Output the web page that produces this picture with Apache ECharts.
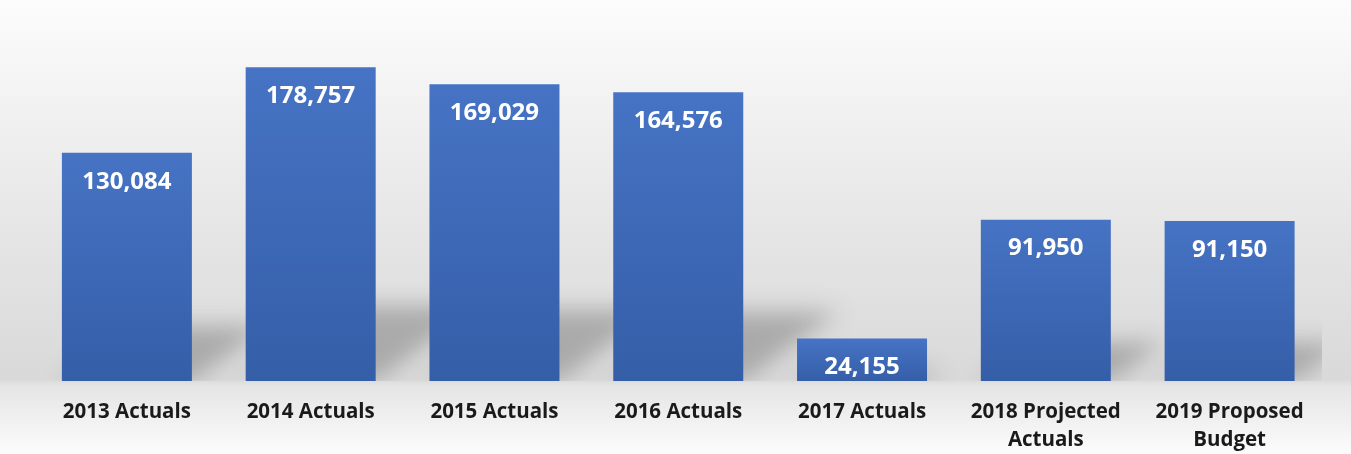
<!DOCTYPE html>
<html>
<head>
<meta charset="utf-8">
<script src="https://cdn.jsdelivr.net/npm/echarts@6/dist/echarts.min.js"></script>
<style>
  html, body { margin: 0; padding: 0; }
  #chart { width: 1351px; height: 454px; }
</style>
</head>
<body>
<div id="chart"></div>
<script>
// Yearly totals, actuals through 2017, then projection and budget
const categories = [
  '2013 Actuals',
  '2014 Actuals',
  '2015 Actuals',
  '2016 Actuals',
  '2017 Actuals',
  '2018 Projected\nActuals',
  '2019 Proposed\nBudget'
];
const values = [130084, 178757, 169029, 164576, 24155, 91950, 91150];

const BAR_WIDTH = 130;
const FONT = '"Open Sans", "Noto Sans", sans-serif';

const chart = echarts.init(document.getElementById('chart'), null, { renderer: 'canvas' });

// Soft, skewed cast shadow behind each bar. The solid shape is moved far off to
// the left and only its blurred canvas shadow is shifted back into place.
const OFF = 4000;
function renderShadow(params, api) {
  const idx = api.value(0);
  const val = api.value(1);
  const base = api.coord([idx, 0]);
  const top = api.coord([idx, val]);
  const h = base[1] - top[1];
  const x0 = base[0] - BAR_WIDTH / 2;
  const x1 = base[0] + BAR_WIDTH / 2;
  const yb = base[1];
  const dx = 0.33 * h;
  const dy = 0.24 * h;
  return {
    type: 'polygon',
    shape: {
      points: [
        [x0 - OFF, yb],
        [x1 - OFF, yb],
        [x1 + dx - OFF, yb - dy],
        [x0 + dx - OFF, yb - dy]
      ]
    },
    style: {
      fill: '#000',
      shadowColor: 'rgba(90,90,90,0.38)',
      shadowBlur: 22,
      shadowOffsetX: OFF,
      shadowOffsetY: 0
    }
  };
}

const option = {
  backgroundColor: {
    type: 'linear', x: 0, y: 0, x2: 0, y2: 1,
    colorStops: [
      { offset: 0.00, color: '#fcfcfc' },
      { offset: 0.25, color: '#f1f1f1' },
      { offset: 0.55, color: '#e4e4e4' },
      { offset: 0.835, color: '#d9d9d9' },
      { offset: 0.85, color: '#e5e5e5' },
      { offset: 1.00, color: '#fcfcfc' }
    ]
  },
  animation: false,
  grid: { left: 35, right: 29.5, top: 30, bottom: 73, containLabel: false },
  xAxis: {
    type: 'category',
    data: categories,
    axisLine: { show: false },
    axisTick: { show: false },
    axisLabel: {
      interval: 0,
      margin: 17,
      color: '#1a1a1a',
      fontFamily: FONT,
      fontWeight: 'bold',
      fontSize: 20.5,
      lineHeight: 28
    }
  },
  yAxis: {
    type: 'value',
    min: 0,
    max: 200000,
    show: false,
    splitLine: { show: false }
  },
  series: [
    {
      type: 'custom',
      clip: true,
      z: 1,
      silent: true,
      renderItem: renderShadow,
      data: values.map((v, i) => [i, v])
    },
    {
      type: 'bar',
      z: 2,
      barWidth: BAR_WIDTH,
      data: values,
      itemStyle: {
        color: {
          type: 'linear', x: 0, y: 0, x2: 0, y2: 1,
          colorStops: [
            { offset: 0, color: '#4673c4' },
            { offset: 1, color: '#355ea8' }
          ]
        }
      },
      label: {
        show: true,
        position: ['50%', 29],
        align: 'center',
        verticalAlign: 'middle',
        color: '#ffffff',
        fontFamily: FONT,
        fontWeight: 'bold',
        fontSize: 24,
        formatter: p => p.value.toLocaleString('en-US')
      }
    }
  ]
};

chart.setOption(option);
</script>
</body>
</html>
